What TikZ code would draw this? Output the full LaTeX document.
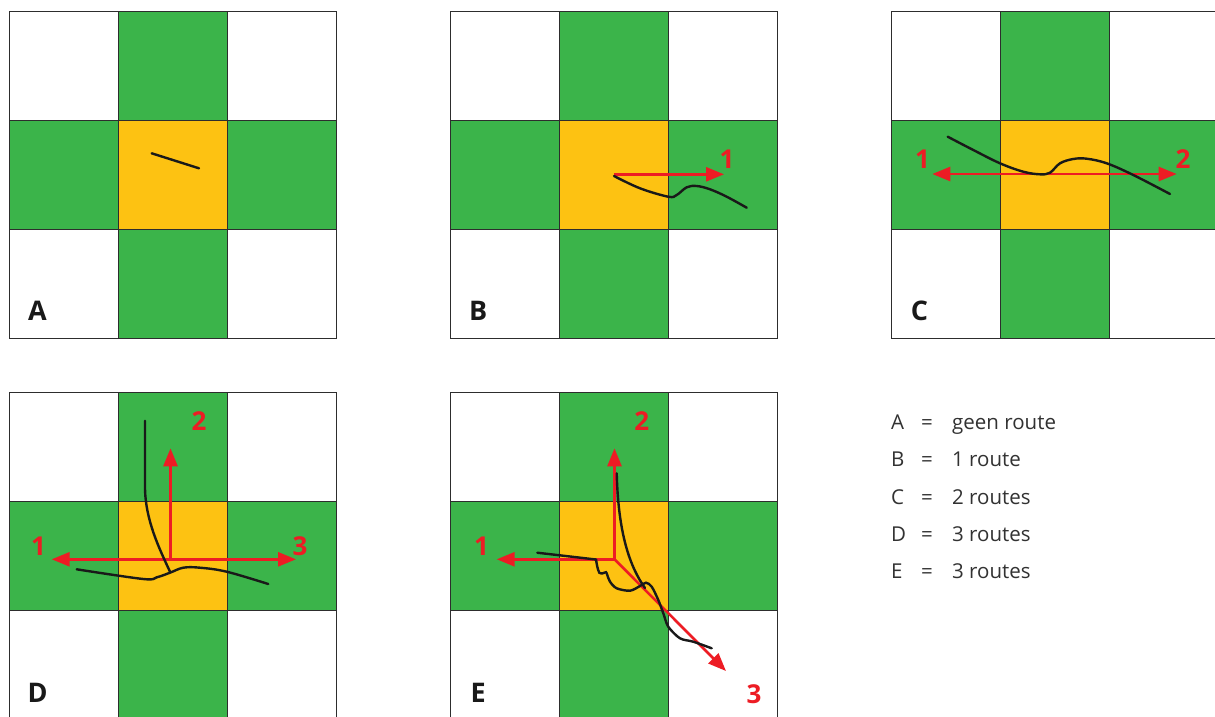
\documentclass[tikz,border=0pt]{standalone}
\usepackage{fontspec}
\setmainfont{Open Sans}
\usetikzlibrary{arrows.meta}
\definecolor{grn}{RGB}{59,180,74}
\definecolor{ylw}{RGB}{253,194,18}
\definecolor{rd}{RGB}{237,28,36}
\definecolor{gridc}{RGB}{45,45,45}
\definecolor{legc}{RGB}{50,50,50}
\tikzset{
  panellabel/.style={anchor=base, text=black!90, font=\fontsize{27}{32}\selectfont\bfseries, inner sep=0pt},
  numlabel/.style={anchor=base, text=rd, font=\fontsize{26}{30}\selectfont\bfseries, inner sep=0pt},
  legtext/.style={anchor=base west, text=legc, font=\fontsize{20.5}{24}\selectfont, inner sep=0pt},
  route/.style={draw=black!90, line width=2.4pt, line cap=round},
  redarrow/.style={draw=rd, line width=2.6pt, -{Triangle[length=18pt,width=14pt]}},
  gridline/.style={draw=gridc, line width=1pt}
}
\newcommand\crossgrid[3]{%
  \begin{scope}[shift={(#1,#2)}]
    \fill[grn] (109,0) rectangle (218,327);
    \fill[grn] (0,109) rectangle (327,218);
    \fill[ylw] (109,109) rectangle (218,218);
    \draw[gridline] (0,0) rectangle (327,327);
    \draw[gridline] (109,0) -- (109,327);
    \draw[gridline] (218,0) -- (218,327);
    \draw[gridline] (0,109) -- (327,109);
    \draw[gridline] (0,218) -- (327,218);
    \node[panellabel] (lbl#3) at (28,309.5) {#3};
  \end{scope}}
\begin{document}
\begin{tikzpicture}[x=1pt,y=-1pt]
\useasboundingbox (0,0) rectangle (1215,716);
\fill[white] (0,0) rectangle (1215,716);
\begin{scope}
\clip (0,0) rectangle (1215,716);
\crossgrid{9.5}{11}{A}
\crossgrid{450.3}{11}{B}
\crossgrid{891.5}{11}{C}
\crossgrid{9.5}{392.7}{D}
\crossgrid{450.3}{392.7}{E}
\end{scope}

% A
\coordinate (a1) at (151.7,153.3);
\coordinate (a2) at (199,168.3);
\draw[route] (a1) -- (a2);

% B
\coordinate (bc) at (614,174.3);
\coordinate (b1) at (724,174.3);
\draw[redarrow] (bc) -- (b1);
\node[numlabel] (nb1) at (727,168.3) {1};
\draw[route] plot[smooth, tension=0.6] coordinates {(614,176) (640,188.3) (668.3,196.7) (676.7,195) (686.7,187.3) (696.7,186) (710,189.3) (726.7,196.7) (746.7,207.7)};

% C
\coordinate (cc) at (1055,174);
\coordinate (c1) at (932.3,174);
\coordinate (c2) at (1176.7,174);
\draw[redarrow] (cc) -- (c1);
\draw[redarrow] (cc) -- (c2);
\node[numlabel] (nc1) at (922.5,168.3) {1};
\node[numlabel] (nc2) at (1183,168.3) {2};
\draw[route] plot[smooth, tension=0.6] coordinates {(947.7,136.7) (973.3,150) (1000,163.3) (1023.3,171.7) (1040,174.3) (1050,172.7) (1060,163.3) (1073.3,159) (1086.7,158.7) (1106.7,163.3) (1133.3,175) (1170,194)};

% D
\coordinate (dc) at (170.5,559.3);
\coordinate (d1) at (51.7,559.3);
\coordinate (d2) at (170.5,448.3);
\coordinate (d3) at (296,559.3);
\draw[redarrow] (dc) -- (d1);
\draw[redarrow] (dc) -- (d2);
\draw[redarrow] (dc) -- (d3);
\node[numlabel] (nd1) at (38.5,555) {1};
\node[numlabel] (nd2) at (199,430) {2};
\node[numlabel] (nd3) at (300,555) {3};
\draw[route] (145,420.7) -- (145,486.7) .. controls (145,520) and (160,550) .. (170,571.7);
\draw[route] plot[smooth, tension=0.6] coordinates {(76.7,569.3) (143.3,579) (156.7,577.3) (170,572.7) (183.3,567.7) (200,567.7) (226.7,571.7) (268.3,584)};

% E
\coordinate (ec) at (614.5,559.3);
\coordinate (e1) at (496.7,559.3);
\coordinate (e2) at (614.5,448.3);
\coordinate (e3) at (726,671);
\draw[redarrow] (ec) -- (e1);
\draw[redarrow] (ec) -- (e2);
\draw[redarrow] (ec) -- (e3);
\node[numlabel] (ne1) at (481.5,555) {1};
\node[numlabel] (ne2) at (641.7,430) {2};
\node[numlabel] (ne3) at (754,703.3) {3};
\draw[route] (616.7,473.3) .. controls (618,520) and (625,560) .. (645,588);
\draw[route] (537.3,552.7) -- (596,559.5);
\draw[route] plot[smooth, tension=0.5] coordinates {(596,559.5) (597.3,566.7) (599.3,572.7) (602.7,573.3) (606,572.2) (607.3,575) (610,581.7) (616.7,588.3) (630,590.7) (640,586) (646,582.7) (651.7,586.7) (658.3,600) (663.3,613.3) (668.3,626.7) (680,638.3) (693.3,641.7) (711.7,648.3)};

% legend
\foreach \l/\t/\y [count=\i] in {A/geen route/429, B/1 route/466, C/2 routes/504.5, D/3 routes/541.5, E/3 routes/578.5}{
  \node[legtext] (legl\i) at (891,\y) {\l};
  \node[legtext] (lege\i) at (921,\y) {=};
  \node[legtext] (legt\i) at (952,\y) {\t};
}
\end{tikzpicture}
\end{document}
